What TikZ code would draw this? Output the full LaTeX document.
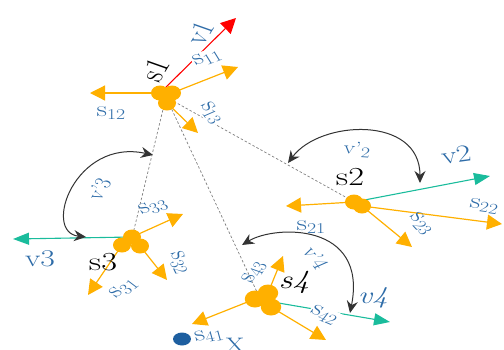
\documentclass[tikz,border=0pt]{standalone}
\usepackage{fontspec}
\usetikzlibrary{arrows.meta}

\definecolor{amber}{RGB}{255,176,0}
\definecolor{tealv}{RGB}{26,188,156}
\definecolor{lblue}{RGB}{46,108,168}
\definecolor{dotblue}{RGB}{30,95,160}
\definecolor{redv}{RGB}{255,0,0}

% lowered small index for component labels
\newcommand{\idx}[1]{\raisebox{-0.35ex}{\fontsize{15}{15}\selectfont #1}}

\tikzset{
  wide/.style={xscale=1.32},
  lobe/.style={circle, fill=amber, inner sep=0pt, minimum size=15pt, xscale=1.2},
  comp/.style={draw=amber, line width=1.2pt, -{Triangle[length=15pt,width=15pt]}},
  vel/.style={draw=tealv, line width=1.1pt, -{Triangle[length=16pt,width=12pt]}},
  vred/.style={draw=redv, line width=1.1pt, -{Triangle[length=15pt,width=15pt]}},
  link/.style={draw=gray, dash pattern=on 2.5pt off 2pt, line width=0.7pt},
  turn/.style={draw=black!80, line width=1pt,
    {Stealth[length=12pt,width=11pt]}-{Stealth[length=12pt,width=11pt]}},
  agent/.style={wide, font=\fontsize{26}{26}\selectfont, text=black, inner sep=1pt},
  vlab/.style={wide, font=\fontsize{24}{24}\selectfont, text=lblue, inner sep=1pt},
  slab/.style={wide, font=\fontsize{22}{22}\selectfont, text=lblue, inner sep=1pt},
  plab/.style={wide, font=\fontsize{18}{18}\selectfont, text=lblue, inner sep=1pt},
  mask/.style={fill=white},
}

\begin{document}
\begin{tikzpicture}[x=1pt,y=-1pt]
\useasboundingbox (0,0) rectangle (504,349);
\clip (0,0) rectangle (504,349);

% agent centres
\coordinate (s1) at (166,97);
\coordinate (s2) at (358,204);
\coordinate (s3) at (131,242);
\coordinate (s4e) at (257,292);

% vector tips
\coordinate (v1tip) at (236,18);
\coordinate (s11tip) at (238,67);
\coordinate (s12tip) at (90,93);
\coordinate (s13tip) at (198,133);
\coordinate (v2tip) at (490,176);
\coordinate (s21tip) at (286,206);
\coordinate (s22tip) at (502,224);
\coordinate (s23tip) at (412,247);
\coordinate (v3tip) at (13,239);
\coordinate (s31tip) at (88,295);
\coordinate (s32tip) at (167,280);
\coordinate (s33tip) at (183,214);
\coordinate (v4tip) at (390,322);
\coordinate (s41tip) at (192,324);
\coordinate (s42tip) at (326,340);
\coordinate (s43tip) at (283,256);

% ends of the turning arcs
\coordinate (a2) at (288,163);
\coordinate (b2) at (420,183);
\coordinate (a3) at (153,155);
\coordinate (b3) at (86,237);
\coordinate (a4) at (242,245);
\coordinate (b4) at (350,313);

% links between agents
\draw[link] (s1) -- (s2);
\draw[link] (s1) -- (s3);
\draw[link] (s1) -- (s4e);

% lobes of each agent (positions only, drawn later on top)
\path (160,93) coordinate (s1a) (172,93) coordinate (s1b) (167,103) coordinate (s1c);
\path (354,202) coordinate (s2a) (362,206) coordinate (s2b);
\path (132,237) coordinate (s3a) (122,245) coordinate (s3b) (140,246) coordinate (s3c);
\path (255,299) coordinate (s4a) (268,293) coordinate (s4b) (271,307) coordinate (s4c);

% agent 1
\draw[vred] (s1a) -- (v1tip);
\draw[comp] (s1b) -- (s11tip);
\draw[comp] (s1a) -- (s12tip);
\draw[comp] (s1c) -- (s13tip);

% agent 2
\draw[vel] (s2a) -- (v2tip);
\draw[comp] (s2a) -- (s21tip);
\draw[comp] (s2b) -- (s22tip);
\draw[comp] (s2b) -- (s23tip);

% agent 3
\draw[vel] (s3a) -- (v3tip);
\draw[comp] (s3b) -- (s31tip);
\draw[comp] (s3c) -- (s32tip);
\draw[comp] (s3a) -- (s33tip);

% agent 4
\draw[vel] (s4a) -- (v4tip);
\draw[comp] (s4a) -- (s41tip);
\draw[comp] (s4c) -- (s42tip);
\draw[comp] (s4b) -- (s43tip);

% turning arcs
\draw[turn] (a2) .. controls (320,120) and (420,115) .. (b2);
\draw[turn] (a3) .. controls (75,138) and (42,232) .. (b3);
\draw[turn] (a4) .. controls (275,225) and (368,222) .. (b4);

% agent bodies
\node[lobe] (n1a) at (s1a) {};
\node[lobe] (n1b) at (s1b) {};
\node[lobe] (n1c) at (s1c) {};
\node[lobe] (n2a) at (s2a) {};
\node[lobe] (n2b) at (s2b) {};
\node[lobe] (n3a) at (s3a) {};
\node[lobe] (n3b) at (s3b) {};
\node[lobe] (n3c) at (s3c) {};
\node[lobe, minimum size=17pt] (n4a) at (s4a) {};
\node[lobe, minimum size=17pt] (n4b) at (s4b) {};
\node[lobe, minimum size=17pt] (n4c) at (s4c) {};

% target
\node[circle, fill=dotblue, inner sep=0pt, minimum size=13pt, xscale=1.38] (tgt) at (182,339) {};
\node[wide, font=\fontsize{21}{21}\selectfont, text=lblue, anchor=north, inner sep=0pt] (tgtlab) at (235,338) {X};

% labels, agent 1
\node[agent, rotate=65] (l1) at (155,70) {s1};
\node[vlab, rotate=65] (lv1) at (200,33) {v1};
\node[slab, mask, rotate=25] (l11) at (207,58) {s\idx{11}};
\node[slab] (l12) at (111,113) {s\idx{12}};
\node[slab, mask, rotate=-60] (l13) at (211,113) {s\idx{13}};

% labels, agent 2
\node[agent] (l2) at (350,177) {s2};
\node[vlab, rotate=10] (lv2) at (456,155) {v2};
\node[slab] (l21) at (311,227) {s\idx{21}};
\node[slab, rotate=-10] (l22) at (484,206) {s\idx{22}};
\node[slab, rotate=-55] (l23) at (421,224) {s\idx{23}};
\node[plab, rotate=-5] (lp2) at (357,150) {v'\idx{2}};

% labels, agent 3
\node[agent] (l3) at (103,262) {s3};
\node[vlab] (lv3) at (40,259) {v3};
\node[slab, rotate=45] (l31) at (124,289) {s\idx{31}};
\node[slab, rotate=-70] (l32) at (179,263) {s\idx{32}};
\node[slab, rotate=25] (l33) at (153,207) {s\idx{33}};
\node[plab, rotate=65] (lp3) at (99,189) {v'3};

% labels, agent 4
\node[agent, font=\fontsize{26}{26}\selectfont\itshape] (l4) at (294,282) {s4};
\node[vlab, font=\fontsize{24}{24}\selectfont\itshape] (lv4) at (373,298) {v4};
\node[slab, rotate=12] (l41) at (209,336) {s\idx{41}};
\node[slab, mask, rotate=-30] (l42) at (324,315) {s\idx{42}};
\node[slab, rotate=65] (l43) at (254,272) {s\idx{43}};
\node[plab, rotate=-60] (lp4) at (316,258) {v'4};
\end{tikzpicture}
\end{document}
